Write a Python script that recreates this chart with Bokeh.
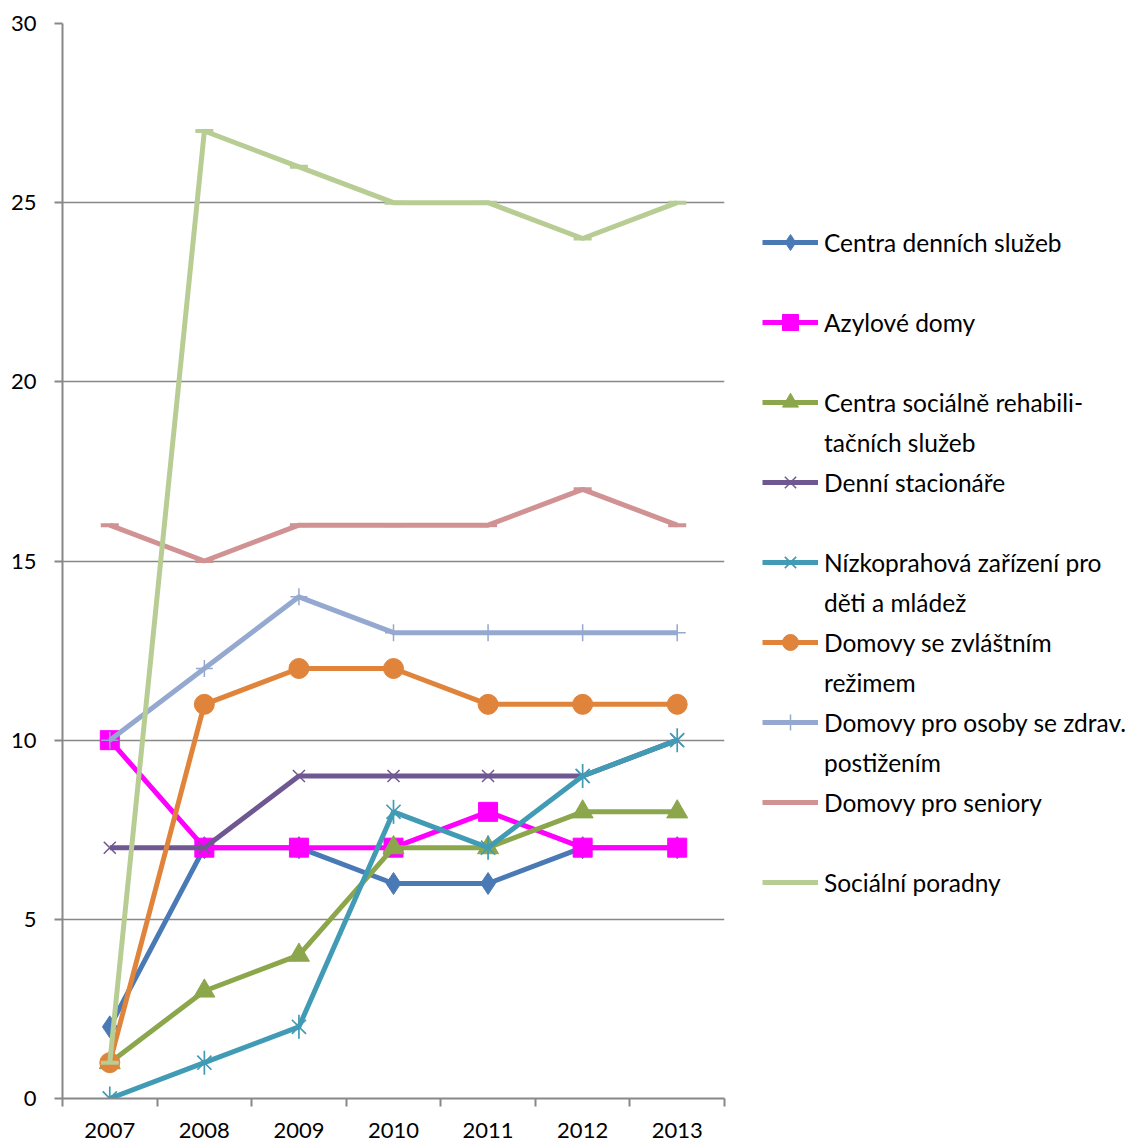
import math
from bokeh.plotting import figure
from bokeh.models import Legend, LegendItem, FixedTicker, Range1d
from bokeh.embed import file_html
from bokeh.resources import INLINE

years = [2007, 2008, 2009, 2010, 2011, 2012, 2013]

centra_dennich = [2, 7, 7, 6, 6, 7, 7]
azylove = [10, 7, 7, 7, 8, 7, 7]
centra_rehab = [1, 3, 4, 7, 7, 8, 8]
denni_stac = [7, 7, 9, 9, 9, 9, 10]
nizkoprah = [0, 1, 2, 8, 7, 9, 10]
zvlastni = [1, 11, 12, 12, 11, 11, 11]
zdrav_post = [10, 12, 14, 13, 13, 13, 13]
seniori = [16, 15, 16, 16, 16, 17, 16]
poradny = [1, 27, 26, 25, 25, 24, 25]

# legend labels, wrapped as in the original (first line, second line)
labels_line1 = [
    "Centra denních služeb",
    "Azylové domy",
    "Centra sociálně rehabili-",
    "Denní stacionáře",
    "Nízkoprahová zařízení pro",
    "Domovy se zvláštním",
    "Domovy pro osoby se zdrav.",
    "Domovy pro seniory",
    "Sociální poradny",
]
labels_line2 = ["", "", "tačních služeb", "", "děti a mládež", "režimem",
                "postižením", "", ""]

y_ticks = [0, 5, 10, 15, 20, 25, 30]

FONT = "Lato"
FRAME_W = 662

p = figure(frame_width=FRAME_W, frame_height=1075, output_backend="svg", toolbar_location=None,
           x_range=Range1d(years[0] - 0.5, years[-1] + 0.5), y_range=Range1d(0, 30),
           min_border_left=62, min_border_top=23, min_border_bottom=44, min_border_right=0)
p.outline_line_color = None
p.background_fill_color = "white"
p.border_fill_color = "white"

grid_color = "#888888"
p.xgrid.grid_line_color = None
p.ygrid.grid_line_color = grid_color
p.ygrid.grid_line_width = 1.5
p.yaxis.ticker = FixedTicker(ticks=y_ticks)
p.ygrid.ticker = FixedTicker(ticks=y_ticks)

p.xaxis.ticker = FixedTicker(ticks=years, minor_ticks=[y - 0.5 for y in years] + [years[-1] + 0.5])
p.xaxis.major_label_overrides = {y: str(y) for y in years}
p.xaxis.major_tick_line_color = None
p.xaxis.minor_tick_line_color = grid_color
p.xaxis.minor_tick_line_width = 2
p.xaxis.minor_tick_out = 8
p.xaxis.minor_tick_in = 0
p.xaxis.major_label_standoff = 16

p.yaxis.minor_tick_line_color = None
p.yaxis.major_tick_line_color = grid_color
p.yaxis.major_tick_line_width = 2
p.yaxis.major_tick_out = 8
p.yaxis.major_tick_in = 0
p.yaxis.major_label_standoff = 18

for ax in (p.xaxis, p.yaxis):
    ax.axis_line_color = grid_color
    ax.axis_line_width = 2
    ax.major_label_text_font = FONT
    ax.major_label_text_font_size = "22px"
    ax.major_label_text_color = "black"

LW = 5
series_renderers = []

def series(vals, color, marker, size, mlw=1, fill=True, extra=None):
    r1 = p.line(years, vals, line_color=color, line_width=LW)
    rs = [r1]
    kw = dict(marker=marker, size=size, line_color=color, line_width=mlw)
    if fill:
        kw["fill_color"] = color
    rs.append(p.scatter(years, vals, **kw))
    if extra is not None:
        rs.append(p.scatter(years, vals, marker=extra[0], size=extra[1], angle=extra[2],
                            line_color=color, line_width=mlw))
    series_renderers.append(rs)

series(centra_dennich, "#4A7AB5", "diamond", 22)
series(azylove, "#FF00FF", "square", 19)
series(centra_rehab, "#8CA64B", "triangle", 21)
series(denni_stac, "#6F5891", "x", 17, mlw=1.5, fill=False)
series(nizkoprah, "#419BB4", "x", 20, mlw=1.7, fill=False, extra=("dash", 24, math.pi / 2))
series(zvlastni, "#E0843C", "circle", 20)
series(zdrav_post, "#94A8D0", "cross", 17, mlw=1.5, fill=False)
series(seniori, "#D09292", "dash", 18, mlw=4, fill=False)
series(poradny, "#B7CD94", "dash", 18, mlw=4, fill=False)

# invisible renderer that carries the second (wrapped) line of each legend entry
blank = p.line(x=[], y=[], line_alpha=0)

items = []
for rs, l1, l2 in zip(series_renderers, labels_line1, labels_line2):
    items.append(LegendItem(label=l1, renderers=rs))
    items.append(LegendItem(label=(l2 if l2 else " "), renderers=[blank]))

legend = Legend(items=items, location=(38, 156))
legend.border_line_color = None
legend.background_fill_alpha = 0
legend.label_text_font = FONT
legend.label_text_font_size = "24.5px"
legend.label_text_color = "black"
legend.glyph_width = 56
legend.glyph_height = 40
legend.label_height = 40
legend.spacing = 0
legend.padding = 0
legend.margin = 0
legend.label_standoff = 6
p.add_layout(legend, "right")

open("out.html", "w").write(file_html(p, INLINE))
